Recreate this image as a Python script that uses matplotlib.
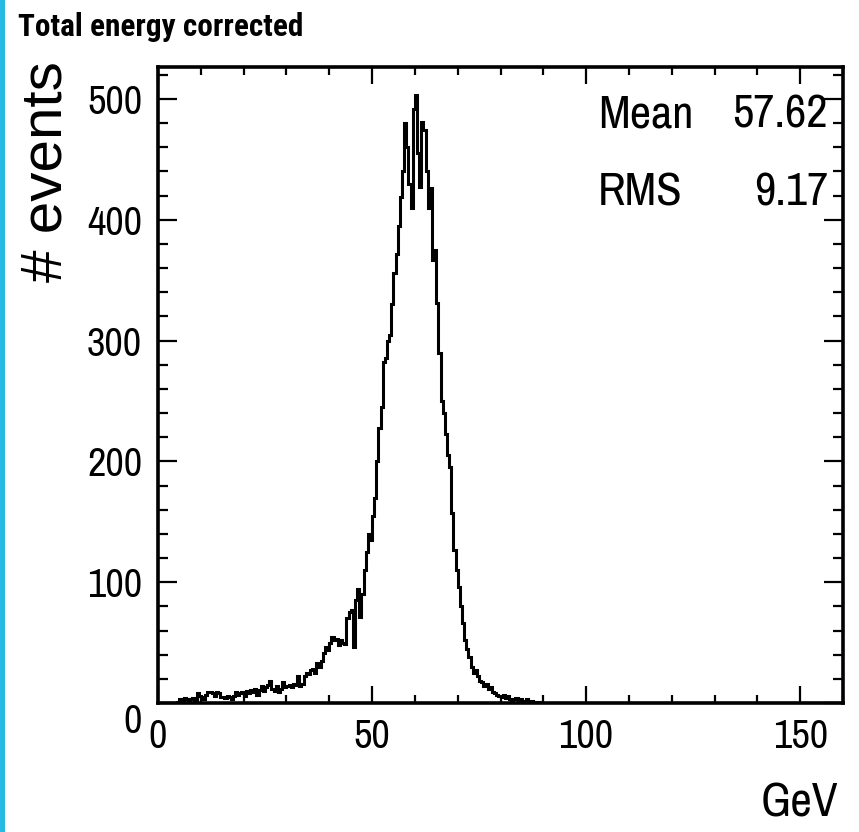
import matplotlib
matplotlib.use("Agg")
import matplotlib.pyplot as plt
import numpy as np
from matplotlib.ticker import MultipleLocator, FixedLocator
from matplotlib.patches import Rectangle
from matplotlib import font_manager

# ---------------- data ----------------
bin_width = 0.5
x_min, x_max = 0.0, 160.0
# counts per 0.5 GeV bin from 0 to 90 GeV (bins above 90 GeV are empty)
counts_0_to_90 = [
    0, 0, 0, 0, 0, 0, 0, 0, 0,
    1, 3, 2, 4, 3, 2, 3, 4, 2,
    8, 6,
    5, 3, 7, 9,
    9, 8, 6, 9,
    8, 5,
    5, 4, 6, 5, 3, 6,
    9, 7, 8, 9, 6, 10, 8, 11,
    9, 12, 7, 11,
    14, 10, 13, 15,
    18, 12, 10, 14,
    9, 12, 17, 13,
    14, 15, 13, 16,
    15, 22, 14, 16,
    22, 25, 24, 27,
    28, 25, 33, 30,
    35, 41, 46, 44,
    50, 55, 52, 53,
    48, 52, 50, 49,
    70, 75, 77, 46,
    85, 94, 71, 90,
    110, 125, 140, 135,
    155, 170,
    200, 228,
    245, 282,
    286, 300,
    305, 330,
    356, 372,
    395, 419,
    440, 480,
    460, 430,
    410, 492,
    503, 455,
    427, 481,
    474, 440,
    410, 426,
    367, 375,
    331, 290,
    250, 240,
    223, 205,
    195, 157,
    127, 110,
    96, 80,
    66, 52,
    45, 38,
    30, 25,
    27, 22,
    18, 17,
    14, 16,
    12, 13,
    9, 8,
    7, 6,
    5, 7, 4, 6,
    3, 2, 3, 4,
    2, 3, 1, 2,
    3, 1, 2, 1,
    1, 0, 1, 0,
]
x_ticks = [0, 50, 100, 150]
y_ticks = [0, 100, 200, 300, 400, 500]
title_text = "Total energy corrected"
x_label = "GeV"
y_label = "# events"
stat_names = ["Mean", "RMS"]
stat_values = ["57.62", "9.17"]

n_bins = int(round((x_max - x_min) / bin_width))
counts = np.zeros(n_bins)
counts[:len(counts_0_to_90)] = counts_0_to_90
edges = np.linspace(x_min, x_max, n_bins + 1)

# ---------------- fonts ----------------
avail = {f.name for f in font_manager.fontManager.ttflist}
def pick(names):
    got = [f for f in names if f in avail]
    return got if got else ["DejaVu Sans"]
narrow = pick(["Archivo Narrow", "Roboto Condensed", "Fira Sans Condensed", "Liberation Sans"])
narrow_bold = pick(["Roboto Condensed", "Fira Sans Condensed", "Archivo Narrow", "Liberation Sans"])
regular = pick(["Liberation Sans", "Arimo", "DejaVu Sans"])

W, H = 859, 832
fig = plt.figure(figsize=(W / 100, H / 100), dpi=100)
fig.patch.set_facecolor("white")

# blue stripe at the left edge
fig.patches.append(Rectangle((0, 0), 4.5 / W, 1, transform=fig.transFigure,
                             facecolor="#26B9E1", edgecolor="none", zorder=0))

L, R, B, T = 158, 843, 703, 67
ax = fig.add_axes([L / W, 1 - B / H, (R - L) / W, (B - T) / H])

ax.stairs(counts, edges, color="black", linewidth=2.2, baseline=None)

ax.set_xlim(x_min, x_max)
ax.set_ylim(0, 526.5)

for s in ax.spines.values():
    s.set_linewidth(2.6)
    s.set_color("black")

ax.xaxis.set_major_locator(FixedLocator(x_ticks))
ax.xaxis.set_minor_locator(MultipleLocator(10))
ax.yaxis.set_major_locator(FixedLocator(y_ticks))
ax.yaxis.set_minor_locator(MultipleLocator(20))

ax.tick_params(axis="both", which="both", direction="in", top=True, right=True,
               width=1.6, color="black")
ax.tick_params(axis="x", which="major", length=12.5, pad=11)
ax.tick_params(axis="x", which="minor", length=6)
ax.tick_params(axis="y", which="major", length=14, pad=11.5)
ax.tick_params(axis="y", which="minor", length=7)

ax.set_xticklabels([str(v) for v in x_ticks], family=narrow, fontsize=29)
ax.set_yticklabels([str(v) for v in y_ticks], family=narrow, fontsize=29)
ax.get_yticklabels()[0].set_verticalalignment("top")

# titles
fig.text(18 / W, 1 - 27 / H, title_text, family=narrow_bold, fontsize=22.5,
         fontweight="bold", ha="left", va="center")
fig.text(838 / W, 1 - 803 / H, x_label, family=narrow, fontsize=34,
         ha="right", va="center")
fig.text(47 / W, 1 - 172 / H, y_label, family=regular, fontsize=42,
         rotation=90, ha="center", va="center")

# stats
stat_y = [115, 192]
for name, val, yy in zip(stat_names, stat_values, stat_y):
    fig.text(598 / W, 1 - yy / H, name, family=narrow, fontsize=33.5,
             ha="left", va="center")
    fig.text(828 / W, 1 - yy / H, val, family=narrow, fontsize=33.5,
             ha="right", va="center")

fig.savefig("out.png", dpi=100, facecolor="white")
